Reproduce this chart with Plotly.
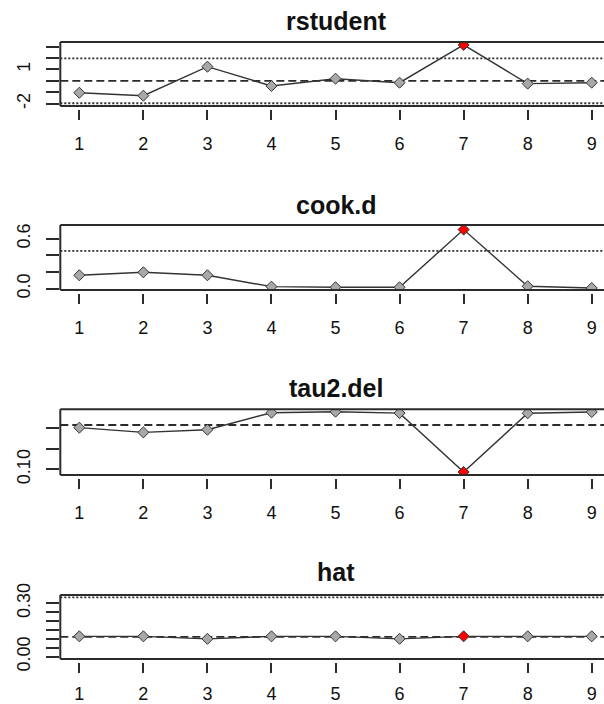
import plotly.graph_objects as go

# ---------------- data ----------------
study = [1, 2, 3, 4, 5, 6, 7, 8, 9]
x_ticklabels = ["1", "2", "3", "4", "5", "6", "7", "8", "9"]

rstudent = [-1.04, -1.30, 1.24, -0.45, 0.19, -0.16, 3.15, -0.24, -0.16]
cook_d = [0.161, 0.197, 0.161, 0.024, 0.017, 0.017, 0.71, 0.029, 0.008]
tau2_del = [0.2015, 0.190, 0.1966, 0.238, 0.2405, 0.237, 0.0934, 0.2366, 0.2397]
hat = [0.114, 0.114, 0.100, 0.114, 0.114, 0.100, 0.114, 0.114, 0.114]

influential = [False, False, False, False, False, False, True, False, False]

titles = ["rstudent", "cook.d", "tau2.del", "hat"]

# reference lines: (value, style)
ref_rstudent = [(1.96, "dot"), (0.0, "dash"), (-1.96, "dot")]
ref_cook = [(0.455, "dot")]
ref_tau2 = [(0.208, "dash")]
ref_hat = [(1 / 9, "dash"), (3 / 9, "dot")]

y_ticks_rstudent = [-2, -1, 0, 1, 2, 3]
y_text_rstudent = ["-2", "", "", "1", "", ""]
y_ticks_cook = [0.0, 0.2, 0.4, 0.6]
y_text_cook = ["0.0", "", "", "0.6"]
y_ticks_tau2 = [0.10, 0.15, 0.20]
y_text_tau2 = ["0.10", "", ""]
y_ticks_hat = [0.0, 0.05, 0.10, 0.15, 0.20, 0.25, 0.30]
y_text_hat = ["0.00", "", "", "", "", "", "0.30"]

# ---------------- layout geometry ----------------
W, H = 604, 704
box_px = [(42, 106), (225, 290), (409.3, 475), (594.9, 659)]
y_ranges = [[-2.2, 3.4], [-0.016, 0.765], [0.0861, 0.2463], [-0.0133, 0.3467]]
x_range = [0.703, 9.192]
x_domain = [60.3 / W, 1.0]
x_label_standoff = [8, 8, 8, 5]

series = [rstudent, cook_d, tau2_del, hat]
refs = [ref_rstudent, ref_cook, ref_tau2, ref_hat]
yticks = [(y_ticks_rstudent, y_text_rstudent), (y_ticks_cook, y_text_cook),
          (y_ticks_tau2, y_text_tau2), (y_ticks_hat, y_text_hat)]

DARK = "#2b2b2b"
TXT = "#111111"
FONT = "Liberation Sans, Arial, sans-serif"
dash_map = {"dot": "2px,2px", "dash": "8px,4px"}

fig = go.Figure()
layout = dict(
    width=W, height=H,
    margin=dict(l=0, r=0, t=0, b=0, pad=0),
    paper_bgcolor="white", plot_bgcolor="white",
    showlegend=False,
    font=dict(family=FONT, color=TXT, size=18),
)
shapes = []
annotations = []

for i in range(4):
    n = i + 1
    sfx = "" if n == 1 else str(n)
    top_px, bot_px = box_px[i]
    ydom = [1 - bot_px / H, 1 - top_px / H]

    colors = ["red" if f else "#a8a8a8" for f in influential]
    fig.add_trace(go.Scatter(
        x=study, y=series[i], mode="lines+markers",
        xaxis="x" + sfx, yaxis="y" + sfx,
        line=dict(color="#333333", width=1.4),
        marker=dict(symbol="diamond", size=8.5, color=colors,
                    line=dict(color="#333333", width=1)),
        hoverinfo="skip",
    ))

    layout["xaxis" + sfx] = dict(
        domain=x_domain, range=x_range, anchor="free",
        position=1 - (bot_px + 2.5) / H,
        tickmode="array", tickvals=study, ticktext=x_ticklabels,
        ticks="outside", ticklen=10.5, tickwidth=1.6, tickcolor=DARK,
        showline=False, showgrid=False, zeroline=False, automargin=False,
        tickfont=dict(size=18, family=FONT, color=TXT),
        ticklabelstandoff=x_label_standoff[i],
    )
    layout["yaxis" + sfx] = dict(
        domain=ydom, range=y_ranges[i], anchor="x" + sfx,
        tickmode="array", tickvals=yticks[i][0], ticktext=yticks[i][1],
        ticks="outside", ticklen=13.5, tickwidth=1.6, tickcolor=DARK,
        tickangle=-90, automargin=False, ticklabelstandoff=9,
        showline=False, showgrid=False, zeroline=False,
        tickfont=dict(size=18, family=FONT, color=TXT),
    )

    xd = "x" + sfx + " domain"
    yd = "y" + sfx + " domain"
    for val, sty in refs[i]:
        shapes.append(dict(type="line", xref=xd, yref="y" + sfx,
                           x0=0, x1=1, y0=val, y1=val, layer="below",
                           line=dict(color=DARK, width=1.8, dash=dash_map[sty])))
    for (x0, y0, x1, y1) in [(0, 0, 1, 0), (0, 1, 1, 1), (0, 0, 0, 1)]:
        shapes.append(dict(type="line", xref=xd, yref=yd,
                           x0=x0, y0=y0, x1=x1, y1=y1, layer="above",
                           line=dict(color=DARK, width=2)))

title_y_px = [20.7, 205, 388.3, 571.7]
for i in range(4):
    annotations.append(dict(
        text="<b>" + titles[i] + "</b>", xref="paper", yref="paper",
        x=336 / W, y=1 - title_y_px[i] / H, xanchor="center", yanchor="middle",
        showarrow=False, font=dict(size=25, family=FONT, color="#111111"),
    ))

layout["shapes"] = shapes
layout["annotations"] = annotations
fig.update_layout(**layout)
fig.write_html(
    "out.html",
    config={"displayModeBar": False},
    post_script="document.body.style.margin='0';document.body.style.overflow='hidden';",
)
